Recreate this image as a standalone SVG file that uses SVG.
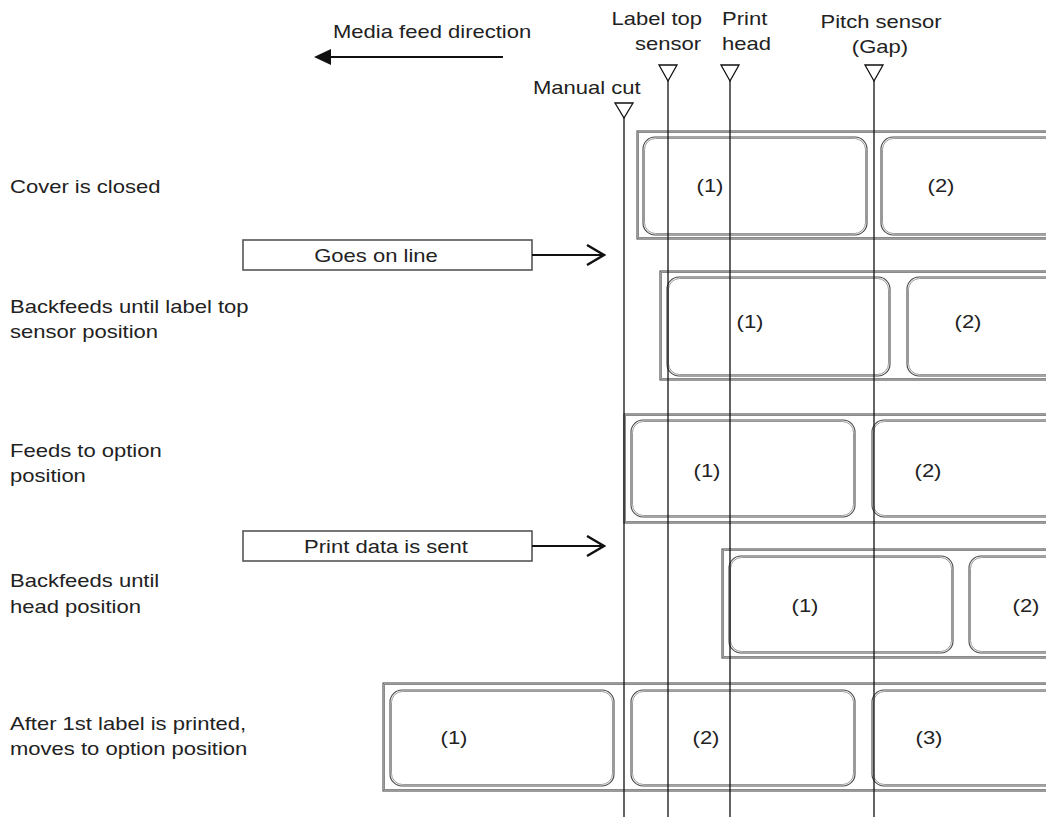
<svg xmlns="http://www.w3.org/2000/svg" width="1046" height="817" viewBox="0 0 1046 817">
<style>
.t{font-family:"Liberation Sans",Arial,sans-serif;font-size:18.5px;fill:#222}
.m{text-anchor:middle}
.e{text-anchor:end}
.frame{fill:#fff;stroke:#4a4a4a;stroke-width:1.1}
.frame2{fill:none;stroke:#8a8a8a;stroke-width:1}
.lab{fill:#fff;stroke:#4a4a4a;stroke-width:1.1}
.lab2{fill:none;stroke:#999;stroke-width:1}
.box{fill:#fff;stroke:#555;stroke-width:1.6}
.vl{stroke:#111;stroke-width:1.3;fill:none}
.tri{fill:#fff;stroke:#111;stroke-width:1.3}
.arr{stroke:#111;stroke-width:2.2;fill:none}
</style>
<defs>
<marker id="fill" viewBox="0 0 17 16" refX="8" refY="8" markerWidth="17" markerHeight="16" markerUnits="userSpaceOnUse" orient="auto">
<path d="M0,0 L17,8 L0,16 Z" fill="#111"/>
</marker>
<marker id="open" viewBox="0 0 20 22" refX="18" refY="11" markerWidth="20" markerHeight="22" markerUnits="userSpaceOnUse" orient="auto">
<path d="M1,1 L18,11 L1,21" fill="none" stroke="#111" stroke-width="2.4"/>
</marker>
</defs>

<g id="title">
<text class="t" transform="translate(333,38) scale(1.19,1)">Media feed direction</text>
</g>

<g id="step-labels">
<text class="t" transform="translate(10,193) scale(1.19,1)">Cover is closed</text>
<text class="t" transform="translate(10,313) scale(1.19,1)">Backfeeds until label top</text>
<text class="t" transform="translate(10,338) scale(1.19,1)">sensor position</text>
<text class="t" transform="translate(10,457) scale(1.19,1)">Feeds to option</text>
<text class="t" transform="translate(10,482) scale(1.19,1)">position</text>
<text class="t" transform="translate(10,587) scale(1.19,1)">Backfeeds until</text>
<text class="t" transform="translate(10,613) scale(1.19,1)">head position</text>
<text class="t" transform="translate(10,730) scale(1.19,1)">After 1st label is printed,</text>
<text class="t" transform="translate(10,755) scale(1.19,1)">moves to option position</text>
</g>

<g id="row1">
<rect class="frame" x="637" y="131" width="430" height="108"/>
<rect class="frame2" x="638.5" y="132.5" width="430" height="105"/>
<rect class="lab" x="643" y="137" width="224" height="98" rx="12"/>
<rect class="lab2" x="644.5" y="138.5" width="221" height="95" rx="11"/>
<rect class="lab" x="881" y="137" width="240" height="98" rx="12"/>
<rect class="lab2" x="882.5" y="138.5" width="240" height="95" rx="11"/>
<text class="t m" transform="translate(710,192) scale(1.19,1)">(1)</text>
<text class="t m" transform="translate(941,192) scale(1.19,1)">(2)</text>
</g>

<g id="row2">
<rect class="frame" x="660" y="271" width="410" height="109"/>
<rect class="frame2" x="661.5" y="272.5" width="410" height="106"/>
<rect class="lab" x="667" y="277" width="223" height="99" rx="12"/>
<rect class="lab2" x="668.5" y="278.5" width="220" height="96" rx="11"/>
<rect class="lab" x="907" y="277" width="220" height="99" rx="12"/>
<rect class="lab2" x="908.5" y="278.5" width="220" height="96" rx="11"/>
<text class="t m" transform="translate(750,328) scale(1.19,1)">(1)</text>
<text class="t m" transform="translate(968,328) scale(1.19,1)">(2)</text>
</g>

<g id="row3">
<rect class="frame" x="624" y="414" width="446" height="109"/>
<rect class="frame2" x="625.5" y="415.5" width="446" height="106"/>
<rect class="lab" x="631" y="420" width="224" height="97" rx="12"/>
<rect class="lab2" x="632.5" y="421.5" width="221" height="94" rx="11"/>
<rect class="lab" x="872" y="420" width="240" height="97" rx="12"/>
<rect class="lab2" x="873.5" y="421.5" width="240" height="94" rx="11"/>
<text class="t m" transform="translate(707,477) scale(1.19,1)">(1)</text>
<text class="t m" transform="translate(928,477) scale(1.19,1)">(2)</text>
</g>

<g id="row4">
<rect class="frame" x="722" y="549" width="350" height="109"/>
<rect class="frame2" x="723.5" y="550.5" width="350" height="106"/>
<rect class="lab" x="729" y="556" width="224" height="97" rx="12"/>
<rect class="lab2" x="730.5" y="557.5" width="221" height="94" rx="11"/>
<rect class="lab" x="969" y="556" width="200" height="97" rx="12"/>
<rect class="lab2" x="970.5" y="557.5" width="200" height="94" rx="11"/>
<text class="t m" transform="translate(805,612) scale(1.19,1)">(1)</text>
<text class="t m" transform="translate(1026,612) scale(1.19,1)">(2)</text>
</g>

<g id="row5">
<rect class="frame" x="383" y="683" width="690" height="108"/>
<rect class="frame2" x="384.5" y="684.5" width="690" height="105"/>
<rect class="lab" x="390" y="690" width="224" height="96" rx="12"/>
<rect class="lab2" x="391.5" y="691.5" width="221" height="93" rx="11"/>
<rect class="lab" x="631" y="690" width="224" height="96" rx="12"/>
<rect class="lab2" x="632.5" y="691.5" width="221" height="93" rx="11"/>
<rect class="lab" x="872" y="690" width="240" height="96" rx="12"/>
<rect class="lab2" x="873.5" y="691.5" width="240" height="93" rx="11"/>
<text class="t m" transform="translate(454,744) scale(1.19,1)">(1)</text>
<text class="t m" transform="translate(706,744) scale(1.19,1)">(2)</text>
<text class="t m" transform="translate(929,744) scale(1.19,1)">(3)</text>
</g>

<g id="box-goes-on-line">
<rect class="box" x="243" y="240" width="289" height="30"/>
<text class="t m" transform="translate(376,262) scale(1.19,1)">Goes on line</text>
</g>

<g id="box-print-data">
<rect class="box" x="243" y="531" width="289" height="30"/>
<text class="t m" transform="translate(386,553) scale(1.19,1)">Print data is sent</text>
</g>

<g id="sensor-manual-cut">
<text class="t" transform="translate(533,94) scale(1.19,1)">Manual cut</text>
<line class="vl" x1="624" y1="117" x2="624" y2="817"/>
<path class="tri" d="M615,103 L633,103 L624,118 Z"/>
</g>

<g id="sensor-label-top">
<text class="t e" transform="translate(702,25) scale(1.19,1)">Label top</text>
<text class="t e" transform="translate(701,50) scale(1.19,1)">sensor</text>
<line class="vl" x1="668" y1="80" x2="668" y2="817"/>
<path class="tri" d="M659,65 L677,65 L668,81 Z"/>
</g>

<g id="sensor-print-head">
<text class="t" transform="translate(722,25) scale(1.19,1)">Print</text>
<text class="t" transform="translate(722,50) scale(1.19,1)">head</text>
<line class="vl" x1="730" y1="80" x2="730" y2="817"/>
<path class="tri" d="M721,65 L739,65 L730,81 Z"/>
</g>

<g id="sensor-pitch">
<text class="t m" transform="translate(881,28) scale(1.19,1)">Pitch sensor</text>
<text class="t m" transform="translate(880,53) scale(1.19,1)">(Gap)</text>
<line class="vl" x1="874" y1="80" x2="874" y2="817"/>
<path class="tri" d="M865,65 L883,65 L874,81 Z"/>
</g>

<g id="connectors">
<line class="arr" x1="503" y1="57" x2="323" y2="57" marker-end="url(#fill)"/>
<line class="arr" x1="532" y1="255" x2="604" y2="255" marker-end="url(#open)"/>
<line class="arr" x1="532" y1="546" x2="604" y2="546" marker-end="url(#open)"/>
</g>
</svg>
